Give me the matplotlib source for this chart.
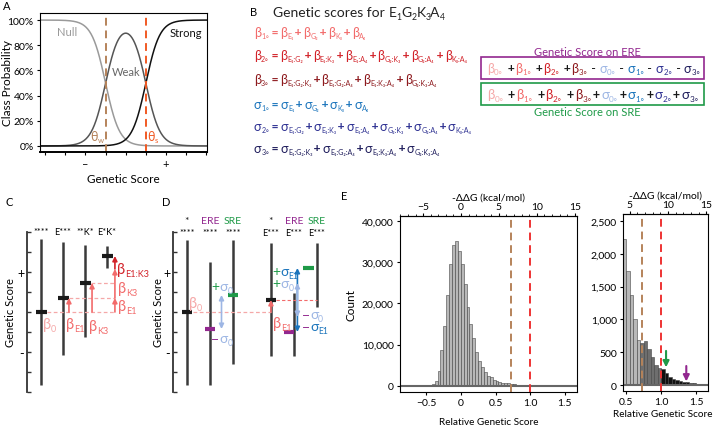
import numpy as np
import matplotlib
matplotlib.use('Agg')
import matplotlib.pyplot as plt
from matplotlib.transforms import IdentityTransform
from itertools import combinations

plt.rcParams['font.family'] = ['Lato', 'DejaVu Sans']

W, H = 715, 427

# -----------------------
# DATA
# -----------------------
# A: ordinal class model
theta_w, theta_s = -1.0, 1.0
class_slope = 2.9
a_ticks = [-4, -3, -2, -1, 0, 1, 2, 3, 4]

# B: genotype loci
loci = ['E₁', 'G₂', 'K₃', 'A₄']

# C: one response element, additive example
c_labels = ['****', 'E***', '**K*', 'E*K*']
c_mean = [0.0, 0.7, 1.45, 2.8]
c_low = [-3.65, -2.15, -1.25, 2.2]
c_high = [3.65, 3.5, 3.35, 3.3]

# D: specificity terms
d_top = ['*', 'ERE', 'SRE', '*', 'ERE', 'SRE']
d_bot = ['****', '****', '****', 'E***', 'E***', 'E***']
d_mean = [0.0, -0.85, 0.85, 0.6, -1.0, 2.2]
d_low = [-3.65, -3.65, -2.6, -2.2, -2.2, 0.25]
d_high = [3.6, 2.5, 3.6, 3.45, 0.95, 3.45]

# E: distribution of relative genetic scores
main_bw, main_start = 0.042, -0.424
main_counts = [300, 1200, 3600, 8700, 14400, 22100, 29500, 34200, 35200, 32600,
               29500, 24600, 19200, 15000, 11600, 8200, 6100, 4600, 3400, 2400,
               2000, 1450, 1050, 800, 680, 650, 600, 450, 330, 280, 260, 240,
               180, 130, 95, 80, 60, 50, 40, 30, 25, 20, 15, 10, 5]
tail_bw, tail_start = 0.05, 0.45
tail_counts = [2230, 1740, 1370, 1000, 686, 635, 666, 550, 422, 310, 254, 244,
               178, 127, 91, 76, 61, 51, 41, 30, 25, 20, 15, 10, 5]
weak_cut, strong_cut = 0.73, 1.0
kcal_per_unit = 9.1
sre_mark, ere_mark = 1.07, 1.36

# colours
c_b0, c_b1, c_b2, c_b3 = '#f5a8a8', '#f26b6b', '#d2232a', '#8e1b1f'
c_s0, c_s1, c_s2, c_s3 = '#9db6e4', '#1c75bc', '#2e3192', '#1f1d5c'
purple, green = '#92278f', '#1f9a48'
brown, orange = '#b5835a', '#f15a24'
ink = '#1a1a1a'


def box(l, t, r, b):
    return [l / W, 1 - b / H, (r - l) / W, (b - t) / H]


fig = plt.figure(figsize=(7.15, 4.27), dpi=100)
rend = fig.canvas.get_renderer()


def _place(x, y, pieces, size, sub_scale):
    # kind 's' = subscript, 'p' = operator sign
    cur, made = x, []
    for p in pieces:
        s, c = p[0], p[1]
        kind = p[2] if len(p) > 2 else ''
        fs, dy, fw = size, 0, 'normal'
        if kind == 's':
            fs, dy = size * sub_scale, size * 100 / 72 * 0.3
        elif kind == 'p':
            fs, fw = size * 0.95, 'bold'
        t = fig.text(cur, H - y - dy, s, color=c, fontsize=fs, va='center', ha='left',
                     fontweight=fw, transform=IdentityTransform())
        cur += t.get_window_extent(rend).width
        made.append(t)
    return cur, made


def measure(pieces, size, sub_scale=0.62):
    end, made = _place(0, 0, pieces, size, sub_scale)
    for t in made:
        t.remove()
    return end


def rich(x, y, pieces, size, fit=None, sub_scale=0.62):
    # x, y in pixels from the top-left corner
    if fit:
        size *= min(1.0, fit / measure(pieces, size, sub_scale))
    return _place(x, y, pieces, size, sub_scale)[0]


def rich_data(ax, x, y, pieces, size):
    px, py = ax.transData.transform((x, y))
    return rich(px, H - py, pieces, size)


def sym(g, sub, col):
    return [(g, col), (sub, col, 's')]


def op(s, col, pad='\u200a'):
    return (pad + s + pad, col, 'p')


def letter(x, y, s):
    fig.text(x / W, 1 - y / H, s, fontsize=8, va='center', ha='left')


# -----------------------
# A
# -----------------------
axA = fig.add_axes(box(40, 14, 207, 153))
xs = np.linspace(-4.25, 4.03, 400)
p_null = 1 / (1 + np.exp(class_slope * (xs - theta_w)))
p_strong = 1 / (1 + np.exp(-class_slope * (xs - theta_s)))
p_weak = 1 - p_null - p_strong
axA.plot(xs, p_null * 100, color='#9a9a9a', lw=1.1)
axA.plot(xs, p_weak * 100, color='#555555', lw=1.1)
axA.plot(xs, p_strong * 100, color='#111111', lw=1.1)
axA.axvline(theta_w, color=brown, lw=1.4, dashes=(4, 2.5))
axA.axvline(theta_s, color=orange, lw=1.4, dashes=(4, 2.5))
axA.set_xlim(-4.25, 4.03)
axA.set_ylim(-4.8, 105.6)
axA.set_yticks([0, 20, 40, 60, 80, 100])
axA.set_yticklabels(['0%', '20%', '40%', '60%', '80%', '100%'], fontsize=7.5)
axA.set_xticks(a_ticks)
axA.set_xticklabels(['–' if t == -2 else '+' if t == 2 else '' for t in a_ticks], fontsize=8)
axA.tick_params(length=2.5, width=0.8, pad=2)
axA.spines['bottom'].set_linewidth(1.4)
axA.set_xlabel('Genetic Score', fontsize=8.5, labelpad=3)
axA.set_ylabel('Class Probability', fontsize=8.5)
axA.yaxis.set_label_coords(-0.16, 0.5)
axA.text(-2.9, 91, 'Null', color='#9a9a9a', fontsize=8, ha='center', va='center')
axA.text(0.0, 59, 'Weak', color='#666666', fontsize=8, ha='center', va='center')
axA.text(3.0, 90, 'Strong', color='#111111', fontsize=8, ha='center', va='center')
rich_data(axA, theta_w - 0.75, 8, sym('θ', 'w', brown), 9)
rich_data(axA, theta_s + 0.08, 8, sym('θ', 's', orange), 9)
letter(3, 7, 'A')

# -----------------------
# B
# -----------------------
letter(250, 13, 'B')
title = [('Genetic scores for ', '#222222')]
for g in loci:
    title += sym(g[0], str('₁₂₃₄'.index(g[1]) + 1), '#222222')
rich(273, 13, title, 10)


def order_line(g, order, col):
    pieces = sym(g, str(order) + '∘', col) + [op('=', col, '\u2009')]
    for k, c in enumerate(combinations(loci, order)):
        if k:
            pieces.append(op('+', col, '\u2009'))
        pieces += sym(g, ':'.join(c), col)
    return pieces


eq_rows = [('β', 1, c_b1), ('β', 2, c_b2), ('β', 3, c_b3),
           ('σ', 1, c_s1), ('σ', 2, c_s2), ('σ', 3, c_s3)]
eq_y = [33, 56, 80, 105, 127, 149]
eq_lines = [order_line(g, o, col) for g, o, col in eq_rows]
eq_sub = 0.56
eq_size = 11 * 216 / measure(eq_lines[1], 11, eq_sub)
for pieces, yy in zip(eq_lines, eq_y):
    rich(254, yy, pieces, eq_size, sub_scale=eq_sub)

# boxes
for top, bot, col in [(58, 80, purple), (84, 106, green)]:
    fig.patches.append(plt.Rectangle((481 / W, 1 - bot / H), 223 / W, (bot - top) / H,
                                     transform=fig.transFigure, fill=False,
                                     edgecolor=col, lw=1.2))
fig.text(587 / W, 1 - 52 / H, 'Genetic Score on ERE', color=purple, fontsize=8,
         ha='center', va='center')
fig.text(587 / W, 1 - 113 / H, 'Genetic Score on SRE', color=green, fontsize=8,
         ha='center', va='center')

beta_cols = [c_b0, c_b1, c_b2, c_b3]
sigma_cols = [c_s0, c_s1, c_s2, c_s3]
for yy, sign in [(69, '-'), (95, '+')]:
    pieces = []
    for k, c in enumerate(beta_cols):
        if k:
            pieces.append(op(' +', ink))
        pieces += sym('β', '%d∘' % k, c)
    for k, c in enumerate(sigma_cols):
        pieces.append(op('+', ink) if sign == '+' else (' - ', ink))
        pieces += sym('σ', '%d∘' % k, c)
    rich(487, yy, pieces, 12, fit=214)

# -----------------------
# C
# -----------------------
def schematic_axis(ax, xl, lab_x):
    ax.set_xlim(*xl)
    ax.set_ylim(-4, 4)
    for s in ['top', 'right', 'bottom']:
        ax.spines[s].set_visible(False)
    ax.spines['left'].set_linewidth(1.3)
    ax.spines['left'].set_color('#333333')
    ax.set_xticks([])
    ax.set_yticks(range(-4, 5))
    ax.set_yticklabels(['+' if t == 2 else '-' if t == -2 else '' for t in range(-4, 5)],
                       fontsize=9)
    ax.tick_params(axis='y', direction='in', length=3, width=1, color='#333333', pad=2)
    ax.set_ylabel('Genetic Score', fontsize=8)
    ax.yaxis.set_label_coords(lab_x, 0.5)
    ax.patch.set_alpha(0)


axC = fig.add_axes(box(27, 233, 160, 393))
schematic_axis(axC, (-14 / 22, (160 - 41) / 22), -0.08)
for i, lab in enumerate(c_labels):
    axC.vlines(i, c_low[i], c_high[i], color='#3a3a3a', lw=1.8)
    axC.hlines(c_mean[i], i - 0.25, i + 0.25, color=ink, lw=3)
    axC.text(i, 4.0, lab, fontsize=6.5, ha='center', va='center', clip_on=False)

b_e1 = c_mean[1] - c_mean[0]
b_k3 = c_mean[2] - c_mean[0]
stack_x = 3.36
dash = dict(color=c_b0, lw=0.9, linestyle=(0, (3, 2)))
axC.hlines(c_mean[0], 0.27, stack_x, **dash)
axC.hlines(c_mean[1], 1.25, stack_x, **dash)
axC.hlines(c_mean[2], 2.25, stack_x, **dash)


def arrow(ax, x, y0, y1, col, style='-|>', lw=1.2):
    ax.annotate('', xy=(x, y1), xytext=(x, y0),
                arrowprops=dict(arrowstyle=style, color=col, lw=lw, mutation_scale=7,
                                shrinkA=0, shrinkB=0))


arrow(axC, 1.27, c_mean[0], c_mean[1], c_b1)
arrow(axC, 2.32, c_mean[0], c_mean[2], c_b1)
arrow(axC, stack_x, c_mean[0], c_mean[0] + b_e1, c_b1)
arrow(axC, stack_x, c_mean[0] + b_e1, c_mean[0] + b_e1 + b_k3, c_b1)
arrow(axC, stack_x, c_mean[0] + b_e1 + b_k3, c_mean[3], c_b2)
rich_data(axC, 0.08, -0.6, sym('β', '0', c_b0), 10.5)
rich_data(axC, 1.15, -0.6, sym('β', 'E1', c_b1), 10.5)
rich_data(axC, 2.2, -0.7, sym('β', 'K3', c_b1), 10.5)
rich_data(axC, 3.5, 0.3, sym('β', 'E1', c_b1), 10.5)
rich_data(axC, 3.5, 1.2, sym('β', 'K3', c_b1), 10.5)
rich_data(axC, 3.45, 2.15, sym('β', 'E1:K3', c_b2), 10.5)
letter(6, 203, 'C')

# -----------------------
# D
# -----------------------
axD = fig.add_axes(box(173, 233, 330, 393))
schematic_axis(axD, (-14 / 23, (330 - 187) / 23), -0.055)
d_x = [0, 1, 2, 3.65, 4.65, 5.65]
d_shift = [0, 0, 0, 0, -0.22, -0.37]
d_col = {'*': ink, 'ERE': purple, 'SRE': green}
for i in range(len(d_x)):
    axD.vlines(d_x[i], d_low[i], d_high[i], color='#3a3a3a', lw=1.8)
    xm = d_x[i] + d_shift[i]
    axD.hlines(d_mean[i], xm - 0.23, xm + 0.23, color=d_col[d_top[i]], lw=3)
    axD.text(d_x[i], 4.55, d_top[i], fontsize=7.5, ha='center', va='center',
             color=d_col[d_top[i]] if d_top[i] != '*' else '#222222', clip_on=False)
    axD.text(d_x[i], 3.95, d_bot[i], fontsize=6.5, ha='center', va='center', clip_on=False)

sig0 = d_mean[2] - d_mean[0]
axD.hlines(d_mean[0], 0.26, d_x[3], color=c_b0, lw=0.9, linestyle=(0, (3, 2)))
axD.hlines(d_mean[3], 3.85, d_x[5], color=c_b1, lw=0.8, linestyle=(0, (3, 2)))
arrow(axD, 1.5, d_mean[1], d_mean[2], c_s0, '<|-|>')
arrow(axD, d_x[3], d_mean[0], d_mean[3], c_b1)
arrow(axD, 4.8, d_mean[4], d_mean[5], c_s1, '<|-|>')
arrow(axD, 4.8, d_mean[3] - sig0, d_mean[3] + sig0, c_s0, '<|-|>')
rich_data(axD, 0.08, 0.45, sym('β', '0', c_b0), 10.5)
rich_data(axD, 3.74, -0.55, sym('β', 'E1', c_b1), 10.5)
rich_data(axD, 1.05, 1.3, [('+', green)] + sym('σ', '0', c_s0), 10)
rich_data(axD, 1.05, -1.3, [('−', purple)] + sym('σ', '0', c_s0), 10)
rich_data(axD, 3.7, 2.05, [('+', green)] + sym('σ', 'E1', c_s1), 10)
rich_data(axD, 3.7, 1.45, [('+', green)] + sym('σ', '0', c_s0), 10)
rich_data(axD, 5.0, -0.1, [('−', purple)] + sym('σ', '0', c_s0), 10)
rich_data(axD, 5.0, -0.7, [('−', purple)] + sym('σ', 'E1', c_s1), 10)
letter(162, 203, 'D')

# -----------------------
# E
# -----------------------
def bar_colors(left_edges):
    return ['#111111' if e >= strong_cut - 1e-9 else '#6e6e6e' if e >= 0.7 - 1e-9
            else '#b8b8b8' for e in left_edges]


def hist_panel(ax, start, bw, counts, xl, yl, yt, xt, kt):
    edges = start + bw * np.arange(len(counts))
    ax.bar(edges, counts, width=bw, align='edge', color=bar_colors(edges),
           edgecolor='#444444', lw=0.4)
    ax.axhline(0, color='#666666', lw=1.5)
    ax.axvline(weak_cut, color=brown, lw=1.4, dashes=(4, 2.5))
    ax.axvline(strong_cut, color='#ee3333', lw=1.4, dashes=(4, 2.5))
    ax.set_yticks(yt)
    ax.set_yticklabels(['{:,}'.format(v) for v in yt], fontsize=7.5)
    ax.set_xticks(xt)
    ax.set_xticklabels([('%g' % v if v != int(v) or v == 0 else '%.1f' % v).replace('-', '−')
                        for v in xt], fontsize=7.5)
    ax.set_xlim(*xl)
    ax.set_ylim(*yl)
    ax.tick_params(length=2.5, width=0.8, pad=2)
    ax.set_xlabel('Relative Genetic Score', fontsize=7.2, labelpad=7)
    sec = ax.secondary_xaxis('top', functions=(lambda v: v * kcal_per_unit,
                                               lambda v: v / kcal_per_unit))
    sec.set_xticks(kt)
    sec.set_xticklabels([str(v).replace('-', '−') for v in kt], fontsize=7.5)
    sec.set_xticks(np.arange(-8, 16), minor=True)
    sec.tick_params(length=2.5, width=0.8, pad=1)
    sec.tick_params(which='minor', length=1.5, width=0.6)
    sec.set_xlabel('-ΔΔG (kcal/mol)', fontsize=7.5, labelpad=2)
    return ax


axE = fig.add_axes(box(400, 217, 577, 393))
hist_panel(axE, main_start, main_bw, main_counts, (-0.884, 1.681), (-1530, 41215),
           [0, 10000, 20000, 30000, 40000], [-0.5, 0, 0.5, 1.0, 1.5], [-5, 0, 5, 10, 15])
axE.set_ylabel('Count', fontsize=8.5, labelpad=4)

axF = fig.add_axes(box(623, 215, 708, 392))
hist_panel(axF, tail_start, tail_bw, tail_counts, (0.453, 1.671), (-91, 2607),
           [0, 500, 1000, 1500, 2000, 2500], [0.5, 1.0, 1.5], [5, 10, 15])
axF.xaxis.set_label_coords(0.47, -0.1)
axF.annotate('', xy=(sre_mark, 270), xytext=(sre_mark, 520),
             arrowprops=dict(arrowstyle='-|>', color=green, lw=1.5, mutation_scale=9,
                             shrinkA=0, shrinkB=0))
axF.annotate('', xy=(ere_mark, 55), xytext=(ere_mark, 290),
             arrowprops=dict(arrowstyle='-|>', color=purple, lw=1.5, mutation_scale=9,
                             shrinkA=0, shrinkB=0))
letter(341, 197, 'E')

fig.savefig('out.png', dpi=100)
